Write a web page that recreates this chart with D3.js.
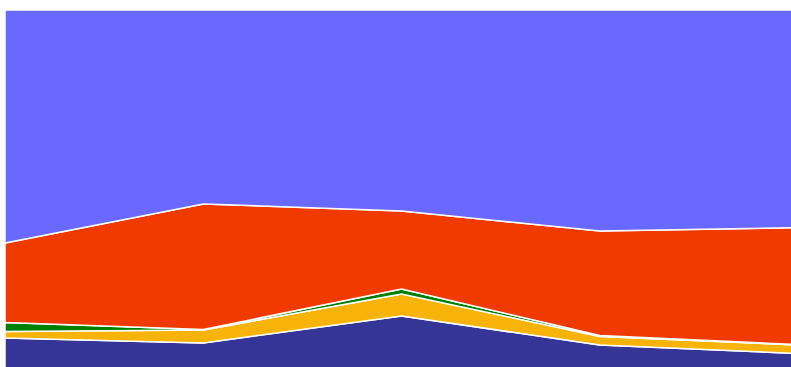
<!DOCTYPE html>
<html><head><meta charset="utf-8">
<script src="https://cdn.jsdelivr.net/npm/d3@7"></script>
<style>html,body{margin:0;padding:0;background:#fff;overflow:hidden}</style>
</head><body><svg id="c" width="791" height="367"></svg>
<script>
const categories = ["P1","P2","P3","P4","P5"];
const seriesNames = ["navy","yellow","green","red","blue"];
const navy   = [34, 29, 56, 27, 18.5];
const yellow = [6.5, 13, 22, 8.5, 8.5];
const green  = [9, 0.5, 5, 1, 0.5];
const red    = [79.5, 125.5, 78, 104.5, 117];
const blue   = [233, 194, 201, 221, 218];
const colors = ["#353597","#f8b309","#008000","#f03a00","#6969ff"];

const rows = categories.map((c,i)=>({cat:c, navy:navy[i], yellow:yellow[i], green:green[i], red:red[i], blue:blue[i]}));
const svg = d3.select("#c");
const x = d3.scalePoint().domain(categories).range([5, 798]);
const y = d3.scaleLinear().domain([0,1]).range([372, 10]);
const stack = d3.stack().keys(seriesNames).offset(d3.stackOffsetExpand);
const layers = stack(rows);
const area = d3.area().x(d=>x(d.data.cat)).y0(d=>y(d[0])).y1(d=>y(d[1]));
svg.selectAll("path.a").data(layers).join("path")
  .attr("class","a")
  .attr("d",area)
  .attr("fill",(d,i)=>colors[i])
  .attr("stroke","#fff")
  .attr("stroke-width",1.5);
</script></body></html>
